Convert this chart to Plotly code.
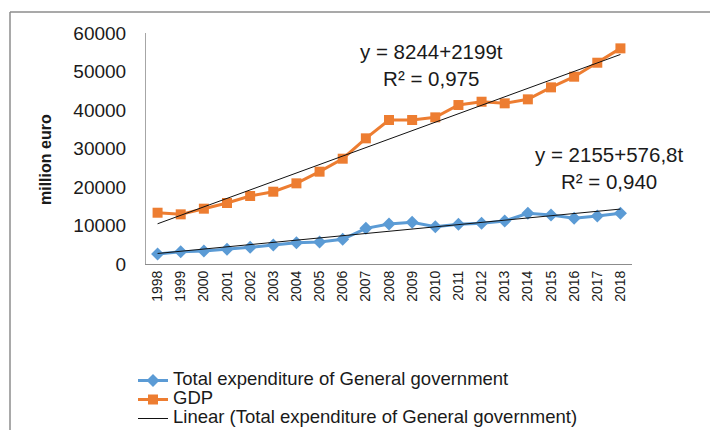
import numpy as np
import plotly.graph_objects as go

years = [str(y) for y in range(1998, 2019)]
expenditure = [2600, 3200, 3380, 3810, 4330, 4930, 5540, 5710, 6400, 9260, 10390,
               10820, 9700, 10300, 10560, 11160, 13160, 12720, 11860, 12460, 13160]
gdp = [13320, 12900, 14370, 15840, 17660, 18780, 20950, 23980, 27350, 32640, 37400,
       37400, 38090, 41290, 42150, 41730, 42770, 45880, 48650, 52280, 56010]
# trend coefficients as printed on the chart (t = 1..21)
gdp_trend = (8244, 2199)
exp_trend = (2155, 576.8)
gdp_label = "y = 8244+2199t<br>R² = 0,975"
exp_label = "y = 2155+576,8t<br>R² = 0,940"
legend_names = ["Total expenditure of General government", "GDP",
                "Linear (Total expenditure of General government)", "Linear (GDP)"]

t = np.arange(1, len(years) + 1)
gdp_fit = gdp_trend[0] + gdp_trend[1] * t
exp_fit = exp_trend[0] + exp_trend[1] * t

FONT = "Liberation Sans, Arial, sans-serif"
TXT = "#1a1a1a"

def big(s):
    return '<span style="font-size:18.5px">' + s + '</span>'

fig = go.Figure()
fig.add_trace(go.Scatter(
    x=years, y=expenditure, mode="lines+markers", name=big(legend_names[0]),
    line=dict(color="#5B9BD5", width=3),
    marker=dict(symbol="diamond", size=10, color="#5B9BD5")))
fig.add_trace(go.Scatter(
    x=years, y=gdp, mode="lines+markers", name=big(legend_names[1]),
    line=dict(color="#ED7D31", width=3),
    marker=dict(symbol="square", size=10, color="#ED7D31")))
fig.add_trace(go.Scatter(
    x=years, y=exp_fit, mode="lines", name=big(legend_names[2]),
    line=dict(color="#111111", width=1)))
fig.add_trace(go.Scatter(
    x=years, y=gdp_fit, mode="lines", name=legend_names[3], showlegend=False,
    line=dict(color="#111111", width=1)))

# the page body adds an 8px offset; work in screen pixels and convert
OFF = 8
W, H = 718 - OFF, 430 - OFF
L, T = 146 - OFF, 33 - OFF
R = W - (632 - OFF)
B = H - (264 - OFF)
pw, ph = W - L - R, H - T - B

def px_x(x):
    return (x - OFF - L) / pw

def px_y(y):
    return (H - B - (y - OFF)) / ph

fig.update_layout(
    width=W, height=H,
    margin=dict(l=L, r=R, t=T, b=B, autoexpand=False),
    paper_bgcolor="white", plot_bgcolor="white",
    font=dict(family=FONT, color=TXT),
    xaxis=dict(type="category", range=[-0.5, len(years) - 0.5],
               showline=True, linecolor="#8c8c8c", linewidth=1,
               showgrid=False, ticks="", tickangle=-90, automargin=False,
               tickfont=dict(size=14, color=TXT, family=FONT)),
    yaxis=dict(range=[0, 60000], dtick=10000, tickformat="d", showline=True,
               linecolor="#a6a6a6", linewidth=1, showgrid=False, zeroline=False,
               ticks="", ticklabelstandoff=15, automargin=False,
               tickfont=dict(size=19, color=TXT, family=FONT)),
    legend=dict(x=px_x(133), y=px_y(366), xanchor="left", yanchor="top",
                font=dict(size=12, color=TXT, family=FONT),
                bgcolor="rgba(0,0,0,0)", tracegroupgap=0),
    showlegend=True,
    annotations=[
        dict(text=gdp_label, xref="paper", yref="paper", x=px_x(431), y=px_y(64.5),
             xanchor="center", yanchor="middle",
             showarrow=False, font=dict(size=20.5, color=TXT, family=FONT), align="center"),
        dict(text=exp_label, xref="paper", yref="paper", x=px_x(608.5), y=px_y(168.3),
             xanchor="center", yanchor="middle",
             showarrow=False, font=dict(size=20.5, color=TXT, family=FONT), align="center"),
        dict(text="<b>million euro</b>", xref="paper", yref="paper", x=px_x(45), y=px_y(160),
             xanchor="center", yanchor="middle",
             textangle=-90, showarrow=False, font=dict(size=16, color=TXT, family=FONT)),
    ],
    shapes=[
        dict(type="line", xref="paper", yref="paper", x0=px_x(10), x1=px_x(730),
             y0=px_y(12), y1=px_y(12), line=dict(color="#8c8c8c", width=1.5)),
        dict(type="line", xref="paper", yref="paper", x0=px_x(10), x1=px_x(10),
             y0=px_y(12), y1=px_y(440), line=dict(color="#8c8c8c", width=1.5)),
    ],
)

fig.write_html("out.html")
